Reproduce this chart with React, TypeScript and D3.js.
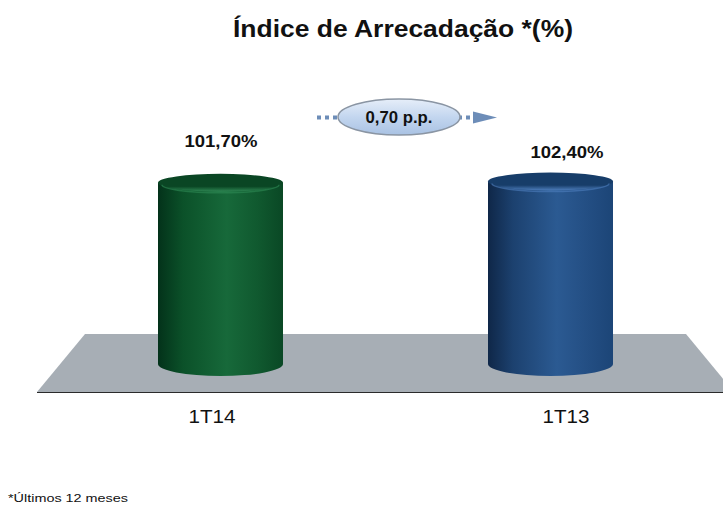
import React, { useEffect, useRef } from "react";
import * as d3 from "d3";

const categories = ["1T14", "1T13"];
const values = [101.7, 102.4];
const valueLabels = ["101,70%", "102,40%"];
const variationLabel = "0,70 p.p.";
const title = "Índice de Arrecadação *(%)";
const footnote = "*Últimos 12 meses";

const width = 723;
const height = 506;
const font = "'Liberation Sans', Arial, sans-serif";

const palettes = [
  { stops: ["#03321a", "#0b5129", "#17693a", "#10592f", "#0a4825"], cap: "#0a4624", rim: "#2f8a55" },
  { stops: ["#0f2748", "#1c416f", "#2b5a92", "#234e83", "#1c4577"], cap: "#173d69", rim: "#4f7fbe" },
];

const App = () => {
  const ref = useRef<SVGSVGElement>(null);

  useEffect(() => {
    drawChart();
  }, []);

  const drawChart = () => {
    const svg = d3.select(ref.current);
    svg.selectAll("*").remove();

    const defs = svg.append("defs");

    const x = d3.scalePoint().domain(categories).range([55.5, 715.5]).padding(0.5);
    const labelX = d3.scalePoint().domain(categories).range([212, 566]);
    const valueX = d3.scalePoint().domain(categories).range([221, 567]);
    const y = d3.scaleLinear().domain([0, 110]).range([364, 168]);
    const barW = 125;
    const ryTop = 9;
    const ryBot = 12;

    // floor
    svg
      .append("path")
      .attr("d", "M85,334 L686,334 L734,392 L37,392 Z")
      .style("fill", "#a7aeb5");
    svg
      .append("line")
      .attr("x1", 37)
      .attr("x2", width)
      .attr("y1", 392.5)
      .attr("y2", 392.5)
      .style("stroke", "#2b2b2b")
      .style("stroke-width", 1.2);

    // gradients
    palettes.forEach((p, i) => {
      const g = defs
        .append("linearGradient")
        .attr("id", `body${i}`)
        .attr("x1", "0%")
        .attr("x2", "100%");
      [0, 0.2, 0.55, 0.8, 1].forEach((o, k) =>
        g.append("stop").attr("offset", o).attr("stop-color", p.stops[k])
      );

      const cg = defs
        .append("linearGradient")
        .attr("id", `cap${i}`)
        .attr("x1", "0%")
        .attr("x2", "0%")
        .attr("y1", "0%")
        .attr("y2", "100%");
      cg.append("stop").attr("offset", 0).attr("stop-color", p.cap);
      cg.append("stop").attr("offset", 0.7).attr("stop-color", p.cap);
      cg.append("stop").attr("offset", 1).attr("stop-color", p.rim);
    });

    const bars = svg
      .selectAll("g.bar")
      .data(values)
      .join("g")
      .attr("class", "bar");

    bars
      .append("path")
      .attr("d", (d, i) => {
        const cx = x(categories[i]) as number;
        const x0 = cx - barW / 2;
        const x1 = cx + barW / 2;
        return `M${x0},${y(d)} V${y(0)} A${barW / 2},${ryBot} 0 0 0 ${x1},${y(0)} V${y(d)} Z`;
      })
      .style("fill", (d, i) => `url(#body${i})`);

    bars
      .append("ellipse")
      .attr("cx", (d, i) => x(categories[i]) as number)
      .attr("cy", (d) => y(d))
      .attr("rx", barW / 2)
      .attr("ry", ryTop)
      .style("fill", (d, i) => `url(#cap${i})`);

    // rim highlight
    bars
      .append("path")
      .attr("d", (d, i) => {
        const cx = x(categories[i]) as number;
        return `M${cx - barW / 2 + 4},${y(d) + 2} A${barW / 2 - 4},${ryTop - 1} 0 0 0 ${cx + barW / 2 - 4},${y(d) + 2}`;
      })
      .style("fill", "none")
      .style("stroke", (d, i) => palettes[i].rim)
      .style("stroke-opacity", 0.6)
      .style("stroke-width", 1.5);

    // value labels
    svg
      .selectAll("text.value")
      .data(values)
      .join("text")
      .attr("class", "value")
      .attr("x", (d, i) => valueX(categories[i]) as number)
      .attr("y", (d, i) => (i === 0 ? 147 : 158))
      .attr("textLength", 73)
      .attr("lengthAdjust", "spacingAndGlyphs")
      .text((d, i) => valueLabels[i])
      .style("text-anchor", "middle")
      .style("font-family", font)
      .style("font-weight", "bold")
      .style("font-size", "17px")
      .style("fill", "#111");

    // category labels
    svg
      .selectAll("text.cat")
      .data(categories)
      .join("text")
      .attr("class", "cat")
      .attr("x", (d) => labelX(d) as number)
      .attr("y", 423)
      .attr("textLength", 47)
      .attr("lengthAdjust", "spacingAndGlyphs")
      .text((d) => d)
      .style("text-anchor", "middle")
      .style("font-family", font)
      .style("font-size", "19px")
      .style("fill", "#111");

    // variation arrow + bubble
    const arrowColor = "#6d8db8";
    svg
      .append("line")
      .attr("x1", 317)
      .attr("x2", 340)
      .attr("y1", 117.5)
      .attr("y2", 117.5)
      .style("stroke", arrowColor)
      .style("stroke-width", 4)
      .style("stroke-dasharray", "4,4");
    svg
      .append("line")
      .attr("x1", 458)
      .attr("x2", 476)
      .attr("y1", 117.5)
      .attr("y2", 117.5)
      .style("stroke", arrowColor)
      .style("stroke-width", 4)
      .style("stroke-dasharray", "4,4");
    svg
      .append("path")
      .attr("d", "M473,111.5 L497,117.5 L473,123.5 Z")
      .style("fill", arrowColor);

    const bg = defs
      .append("linearGradient")
      .attr("id", "bubble")
      .attr("x1", "0%")
      .attr("x2", "0%")
      .attr("y1", "0%")
      .attr("y2", "100%");
    bg.append("stop").attr("offset", 0).attr("stop-color", "#e6eef9");
    bg.append("stop").attr("offset", 0.5).attr("stop-color", "#c3d6ef");
    bg.append("stop").attr("offset", 1).attr("stop-color", "#a9c2e3");

    svg
      .append("ellipse")
      .attr("cx", 399)
      .attr("cy", 117)
      .attr("rx", 61)
      .attr("ry", 18)
      .style("fill", "url(#bubble)")
      .style("stroke", "#8a95a3")
      .style("stroke-width", 1.5);
    svg
      .append("text")
      .attr("x", 399)
      .attr("y", 123)
      .attr("textLength", 67)
      .attr("lengthAdjust", "spacingAndGlyphs")
      .text(variationLabel)
      .style("text-anchor", "middle")
      .style("font-family", font)
      .style("font-weight", "bold")
      .style("font-size", "16px")
      .style("fill", "#111");

    // title
    svg
      .append("text")
      .attr("x", 403)
      .attr("y", 37)
      .attr("textLength", 340)
      .attr("lengthAdjust", "spacingAndGlyphs")
      .text(title)
      .style("text-anchor", "middle")
      .style("font-family", font)
      .style("font-weight", "bold")
      .style("font-size", "23px")
      .style("fill", "#111");

    // footnote
    svg
      .append("text")
      .attr("x", 8)
      .attr("y", 502)
      .attr("textLength", 120)
      .attr("lengthAdjust", "spacingAndGlyphs")
      .text(footnote)
      .style("font-family", font)
      .style("font-size", "11px")
      .style("fill", "#111");
  };

  return (
    <svg
      ref={ref}
      width={width}
      height={height}
      style={{ position: "absolute", left: 0, top: 0, background: "#fff" }}
    />
  );
};

export default App;
